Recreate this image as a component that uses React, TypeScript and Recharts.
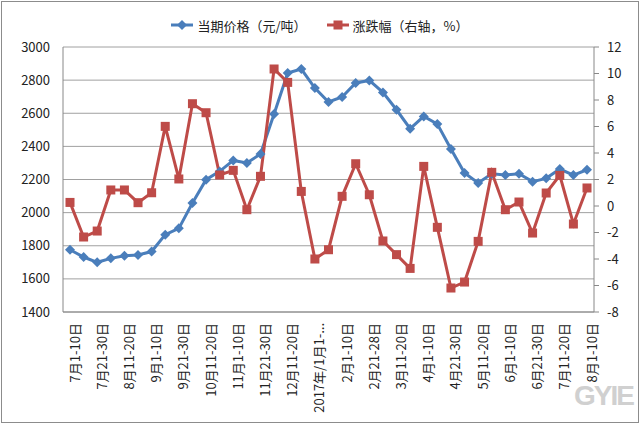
import { ComposedChart, Line, XAxis, YAxis, CartesianGrid, Legend } from 'recharts';

const categories = [
  '7月1-10日', '7月11-20日', '7月21-30日', '8月1-10日', '8月11-20日', '8月21-31日',
  '9月1-10日', '9月11-20日', '9月21-30日', '10月1-10日', '10月11-20日', '10月21-31日',
  '11月1-10日', '11月11-20日', '11月21-30日', '12月1-10日', '12月11-20日', '12月21-31日',
  '2017年/1月1-...', '1月11-20日', '2月1-10日', '2月11-20日', '2月21-28日',
  '3月1-10日', '3月11-20日', '3月21-31日', '4月1-10日', '4月11-20日', '4月21-30日',
  '5月1-10日', '5月11-20日', '5月21-31日', '6月1-10日', '6月11-20日', '6月21-30日',
  '7月1-10日', '7月11-20日', '7月21-31日', '8月1-10日',
];

// 当期价格（元/吨）
const priceValues = [
  1776, 1732, 1700, 1724, 1740, 1744, 1765, 1867, 1905, 2058, 2199, 2249, 2315,
  2300, 2354, 2595, 2843, 2867, 2752, 2668, 2698, 2783, 2798, 2726, 2621, 2507,
  2581, 2535, 2384, 2239, 2179, 2235, 2227, 2235, 2187, 2207, 2263, 2227, 2259,
];

// 涨跌幅（右轴，%）
const changeValues = [
  0.27, -2.34, -1.89, 1.21, 1.21, 0.25, 1.0, 6.01, 2.04, 7.72, 7.04, 2.34, 2.69,
  -0.28, 2.24, 10.34, 9.33, 1.1, -4.0, -3.3, 0.73, 3.19, 0.85, -2.64, -3.67, -4.71,
  2.99, -1.61, -6.19, -5.74, -2.67, 2.54, -0.28, 0.3, -2.04, 0.98, 2.31, -1.36, 1.36,
];

const leftTicks = [1400, 1600, 1800, 2000, 2200, 2400, 2600, 2800, 3000];
const rightTicks = [-8, -6, -4, -2, 0, 2, 4, 6, 8, 10, 12];

const BLUE = '#4A7EBB';
const RED = '#BE4B48';
const FONT = '"Noto Sans CJK SC", "Noto Sans", sans-serif';

const data = categories.map((cat, i) => ({
  cat,
  price: priceValues[i],
  change: changeValues[i],
}));

const XTick = (props: any) => {
  const { x, y, payload } = props;
  return (
    <text
      transform={`translate(${x + 4},${y + 11}) rotate(-90)`}
      textAnchor="end"
      dominantBaseline="central"
      fontSize={13}
      fill="#222"
      fontFamily={FONT}
    >
      {payload.value}
    </text>
  );
};

const diamondDot = (props: any) => {
  const { cx, cy, index } = props;
  if (cx == null || cy == null) return <g key={`bd-${index}`} />;
  return (
    <path
      key={`bd-${index}`}
      d={`M${cx},${cy - 5} L${cx + 5},${cy} L${cx},${cy + 5} L${cx - 5},${cy} Z`}
      fill={BLUE}
    />
  );
};

const squareDot = (props: any) => {
  const { cx, cy, index } = props;
  if (cx == null || cy == null) return <g key={`rd-${index}`} />;
  return <rect key={`rd-${index}`} x={cx - 4.5} y={cy - 4.5} width={9} height={9} fill={RED} />;
};

const LegendContent = () => (
  <div
    style={{
      display: 'flex',
      justifyContent: 'center',
      alignItems: 'center',
      height: 20,
      fontFamily: FONT,
      fontSize: 13,
      color: '#222',
    }}
  >
    <svg width={24} height={12} style={{ marginRight: 2 }}>
      <line x1={0} y1={6} x2={22} y2={6} stroke={BLUE} strokeWidth={3} />
      <path d="M11,1 L16,6 L11,11 L6,6 Z" fill={BLUE} />
    </svg>
    <span style={{ marginRight: 20 }}>当期价格（元/吨）</span>
    <svg width={24} height={12} style={{ marginRight: 2 }}>
      <line x1={0} y1={6} x2={22} y2={6} stroke={RED} strokeWidth={3} />
      <rect x={6.5} y={1.5} width={9} height={9} fill={RED} />
    </svg>
    <span>涨跌幅（右轴，%）</span>
  </div>
);

export default function App() {
  return (
    <div style={{ position: 'absolute', left: 0, top: 0, width: 640, height: 425, background: '#fff' }}>
      <div
        style={{
          position: 'absolute',
          left: 1,
          top: 1,
          width: 638,
          height: 422,
          boxSizing: 'border-box',
          border: '1px solid #8c8c8c',
        }}
      />
      <ComposedChart
        width={640}
        height={425}
        data={data}
        margin={{ top: 27, right: 0, left: 0, bottom: 13 }}
        style={{ position: 'absolute', left: 0, top: 0 }}
      >
        <CartesianGrid yAxisId="left" vertical={false} stroke="#A0A0A0" />
        <XAxis
          dataKey="cat"
          interval={1}
          height={100}
          padding={{ left: 7, right: 7 }}
          tick={<XTick />}
          tickLine={false}
          tickSize={0}
          tickMargin={0}
          axisLine={{ stroke: '#888' }}
        />
        <YAxis
          yAxisId="left"
          domain={[1400, 3000]}
          ticks={leftTicks}
          width={63}
          tickLine={false}
          tickSize={0}
          tickMargin={13}
          axisLine={{ stroke: '#888' }}
          tick={{ fontSize: 13, fill: '#222', fontFamily: FONT }}
        />
        <YAxis
          yAxisId="right"
          orientation="right"
          domain={[-8, 12]}
          ticks={rightTicks}
          width={46}
          tickSize={5}
          tickMargin={8}
          tickLine={{ stroke: '#888' }}
          axisLine={{ stroke: '#888' }}
          tick={{ fontSize: 13, fill: '#222', fontFamily: FONT, textAnchor: 'start' }}
        />
        <Legend verticalAlign="top" wrapperStyle={{ top: 15 }} content={<LegendContent />} />
        <Line
          yAxisId="left"
          dataKey="price"
          stroke={BLUE}
          strokeWidth={3}
          dot={diamondDot}
          activeDot={false}
          isAnimationActive={false}
        />
        <Line
          yAxisId="right"
          dataKey="change"
          stroke={RED}
          strokeWidth={3}
          dot={squareDot}
          activeDot={false}
          isAnimationActive={false}
        />
      </ComposedChart>
      <div
        style={{
          position: 'absolute',
          left: 574,
          top: 381,
          fontFamily: '"Liberation Sans", Arial, sans-serif',
          fontWeight: 'bold',
          fontSize: 28,
          lineHeight: '30px',
          color: '#d0d0d0',
          letterSpacing: -2,
        }}
      >
        GYIE
      </div>
    </div>
  );
}
